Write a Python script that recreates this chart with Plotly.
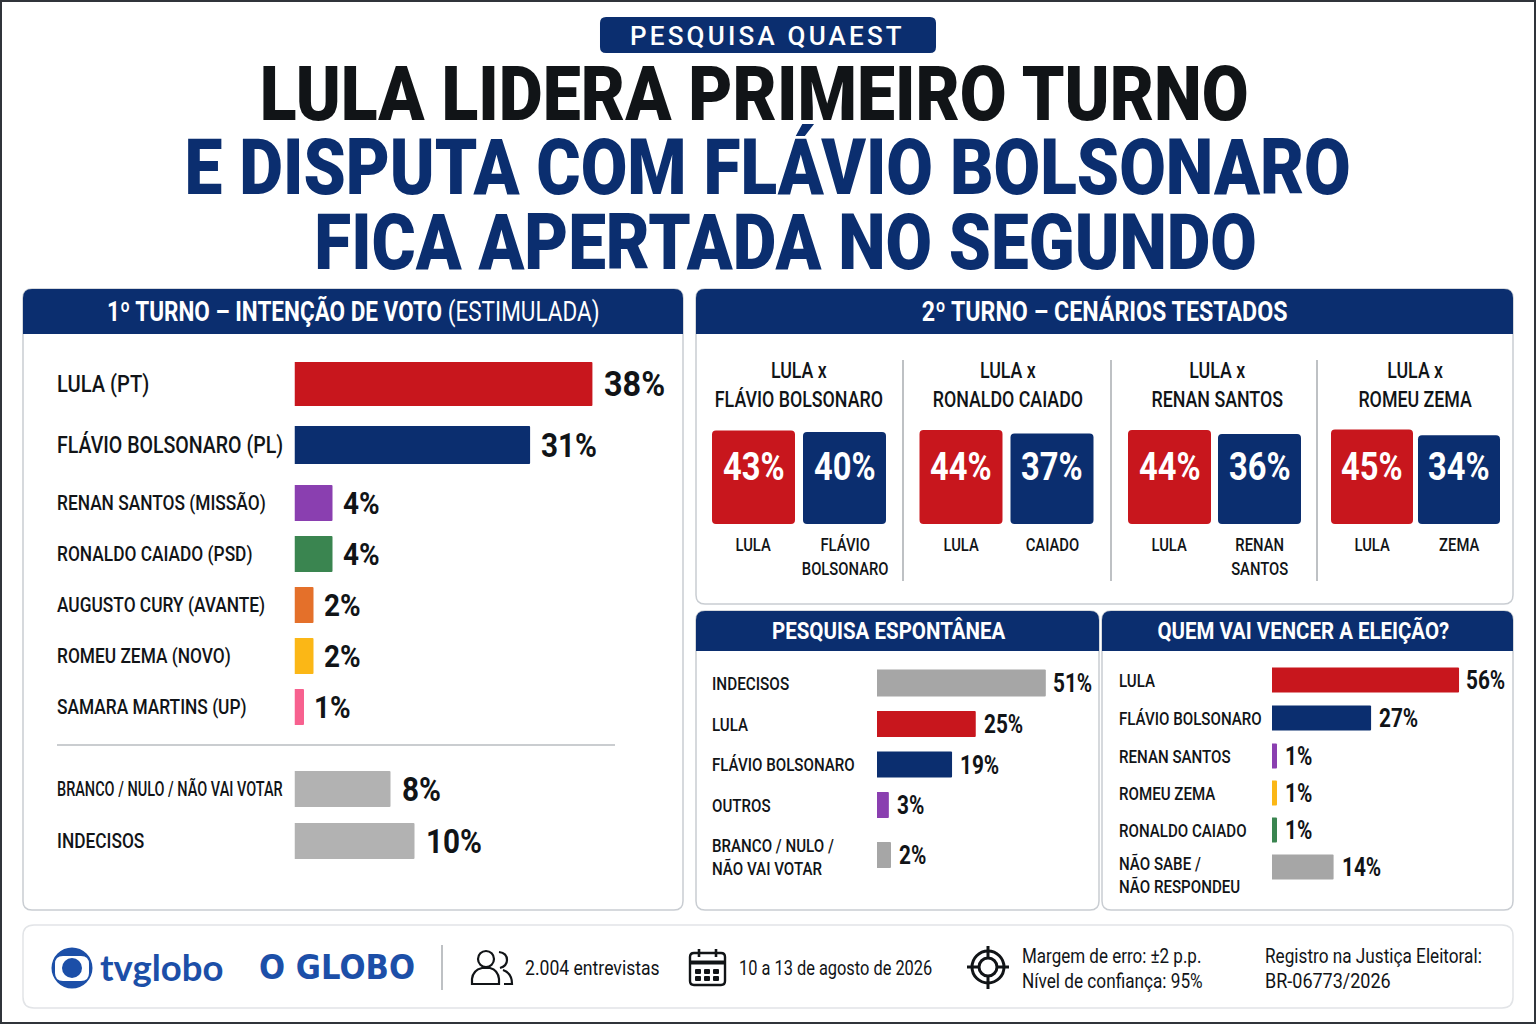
import json
import re
import plotly.graph_objects as go

NAVY = "#0b2e6f"
RED = "#c8161d"
PURPLE = "#8a3fb0"
GREEN = "#3a8550"
ORANGE = "#e4702a"
YELLOW = "#fbb716"
PINK = "#f7618f"
GRAY = "#b2b2b2"
DARKGRAY = "#a6a6a6"
INK = "#111417"
BLUE = "#1c4fa8"
FONT = "Roboto"

# 1o turno
t1_top_cats = ["LULA (PT)", "FLÁVIO BOLSONARO (PL)"]
t1_top_vals = [38, 31]
t1_mid_cats = ["RENAN SANTOS (MISSÃO)", "RONALDO CAIADO (PSD)", "AUGUSTO CURY (AVANTE)", "ROMEU ZEMA (NOVO)", "SAMARA MARTINS (UP)"]
t1_mid_vals = [4, 4, 2, 2, 1]
t1_low_cats = ["BRANCO / NULO / NÃO VAI VOTAR", "INDECISOS"]
t1_low_vals = [8, 10]

# 2o turno
t2_titles = ["LULA x<br>FLÁVIO BOLSONARO", "LULA x<br>RONALDO CAIADO", "LULA x<br>RENAN SANTOS", "LULA x<br>ROMEU ZEMA"]
t2_cats = [["LULA", "FLÁVIO<br>BOLSONARO"], ["LULA", "CAIADO"], ["LULA", "RENAN<br>SANTOS"], ["LULA", "ZEMA"]]
t2_vals = [[43, 40], [44, 37], [44, 36], [45, 34]]

# espontanea
esp_a_cats = ["INDECISOS"]
esp_a_vals = [51]
esp_b_cats = ["LULA", "FLÁVIO BOLSONARO", "OUTROS"]
esp_b_vals = [25, 19, 3]
esp_c_cats = ["BRANCO / NULO /<br>NÃO VAI VOTAR"]
esp_c_vals = [2]

# quem vai vencer
ven_a_cats = ["LULA", "FLÁVIO BOLSONARO"]
ven_a_vals = [56, 27]
ven_b_cats = ["RENAN SANTOS", "ROMEU ZEMA", "RONALDO CAIADO"]
ven_b_vals = [1, 1, 1]
ven_c_cats = ["NÃO SABE /<br>NÃO RESPONDEU"]
ven_c_vals = [14]

W, H = 1536, 1024
fig = go.Figure()
shapes = []
notes = []
squeeze = {}
axes = {}
n_axes = 0


def px(x):
    return x / W


def py(y):
    return 1 - y / H


def pth(d):
    return re.sub(r"(-?[\d.]+),(-?[\d.]+)", lambda m: f"{px(float(m[1])):.5f},{py(float(m[2])):.5f}", d)


def rr(x0, y0, x1, y1, r, top_only=False):
    if top_only:
        return f"M{x0},{y1} L{x0},{y0+r} Q{x0},{y0} {x0+r},{y0} L{x1-r},{y0} Q{x1},{y0} {x1},{y0+r} L{x1},{y1} Z"
    return (f"M{x0+r},{y0} L{x1-r},{y0} Q{x1},{y0} {x1},{y0+r} L{x1},{y1-r} Q{x1},{y1} {x1-r},{y1} "
            f"L{x0+r},{y1} Q{x0},{y1} {x0},{y1-r} L{x0},{y0+r} Q{x0},{y0} {x0+r},{y0} Z")


def path(d, fill=None, line=None, w=0, layer="below"):
    shapes.append(dict(type="path", path=pth(d), xref="paper", yref="paper", layer=layer,
                       fillcolor=fill or "rgba(0,0,0,0)",
                       line=dict(color=line or "rgba(0,0,0,0)", width=w)))


def circle(cx, cy, r, fill=None, line=None, w=0):
    shapes.append(dict(type="circle", xref="paper", yref="paper", layer="above",
                       x0=px(cx - r), x1=px(cx + r), y0=py(cy + r), y1=py(cy - r),
                       fillcolor=fill or "rgba(0,0,0,0)",
                       line=dict(color=line or "rgba(0,0,0,0)", width=w)))


def seg(x0, y0, x1, y1, color, w=1.5, layer="below"):
    shapes.append(dict(type="line", xref="paper", yref="paper", layer=layer,
                       x0=px(x0), x1=px(x1), y0=py(y0), y1=py(y1), line=dict(color=color, width=w)))


def note(x, y, xref, yref, text, size, color=INK, weight=400, anchor="center", family=FONT, sx=1.0, ls=0,
         yanchor="middle", xshift=0, yshift=0):
    # sx / ls: horizontal squeeze and letter spacing, applied to the svg text after plotting
    if sx != 1.0 or ls:
        squeeze[len(notes)] = dict(s=sx, ls=ls, a=anchor)
    notes.append(dict(x=x, y=y, xref=xref, yref=yref, text=text, showarrow=False, xanchor=anchor, yanchor=yanchor,
                      align=anchor, borderpad=0, borderwidth=0, xshift=xshift, yshift=yshift,
                      font=dict(family=family, size=size, color=color, weight=weight)))


def txt(x, y, text, size, **kw):
    note(px(x), py(y), "paper", "paper", text, size, **kw)


def panel(x0, y0, x1, y1, head, title, size, sx, cx=None):
    path(rr(x0, y0, x1, y1, 9), fill="white", line="#c9cdd2", w=1.5)
    path(rr(x0, y0, x1, head, 9, top_only=True), fill=NAVY)
    txt(cx or (x0 + x1) / 2, (y0 + head) / 2, title, size, color="white", weight=700, sx=sx)


def new_axes(x0, x1, y0, y1, xrange, yrange, xtype="linear", ytype="category"):
    global n_axes
    n_axes += 1
    s = "" if n_axes == 1 else str(n_axes)
    axes["xaxis" + s] = dict(domain=[px(x0), px(x1)], range=xrange, type=xtype, visible=False,
                             anchor="y" + s, fixedrange=True)
    axes["yaxis" + s] = dict(domain=[py(y1), py(y0)], range=yrange, type=ytype, visible=False,
                             anchor="x" + s, fixedrange=True)
    return "x" + s, "y" + s


def bars(cats, vals, colors, x0, scale, first, step, thick, lab_x, lab_size, val_size, lab_sx,
         val_gap=11, val_sx=0.8, lab_dy=0, lab_weight=500):
    # one hidden axis pair per group of rows, px-per-percent is set through the axis range
    top = first - step / 2
    bottom = first + step * (len(cats) - 0.5)
    span = min(400, W - x0 - 10)
    xa, ya = new_axes(x0, x0 + span, top, bottom, [0, span / scale], [len(cats) - 0.5, -0.5])
    n = len(cats)
    thick = thick if isinstance(thick, list) else [thick] * n
    lab_size = lab_size if isinstance(lab_size, list) else [lab_size] * n
    val_size = val_size if isinstance(val_size, list) else [val_size] * n
    lab_sx = lab_sx if isinstance(lab_sx, list) else [lab_sx] * n
    fig.add_trace(go.Bar(x=vals, y=cats, orientation="h", xaxis=xa, yaxis=ya, showlegend=False,
                         width=[t / step for t in thick],
                         marker=dict(color=colors, line=dict(width=0), cornerradius=1), hoverinfo="skip"))
    for i, (c, v) in enumerate(zip(cats, vals)):
        note(px(lab_x), c, "paper", ya, c, lab_size[i], anchor="left", sx=lab_sx[i], weight=lab_weight, yshift=lab_dy)
        note(v, c, xa, ya, f"{v}%", val_size[i], anchor="left", sx=val_sx, weight=700, xshift=val_gap)


# outer frame and header
path("M1,1 L1535,1 L1535,1023 L1,1023 Z", line="#30343a", w=2)
path(rr(600, 17, 936, 53, 6), fill=NAVY)
txt(767, 36, "PESQUISA QUAEST", 26, color="white", weight=500, ls=3.2)
txt(753.5, 94, "LULA LIDERA PRIMEIRO TURNO", 76, color=INK, weight=900, sx=0.894)
txt(767.5, 167, "E DISPUTA COM FLÁVIO BOLSONARO", 78, color=NAVY, weight=900, sx=0.867)
txt(785, 242, "FICA APERTADA NO SEGUNDO", 78, color=NAVY, weight=900, sx=0.864)

# panels
panel(23, 289, 683, 910, 334, "<b>1º TURNO – INTENÇÃO DE VOTO</b> <span style='font-weight:400'>(ESTIMULADA)</span>", 27, 0.834)
panel(696, 289, 1513, 604, 334, "2º TURNO – CENÁRIOS TESTADOS", 27, 0.86)
panel(696, 611, 1099, 910, 651, "PESQUISA ESPONTÂNEA", 24, 0.855, cx=889)
panel(1102, 611, 1513, 910, 651, "QUEM VAI VENCER A ELEIÇÃO?", 24, 0.852, cx=1303.5)
path(rr(23, 925, 1513, 1008, 11), fill="white", line="#e2e4e7", w=1.5)

# 1o turno bars
bars(t1_top_cats[:1], t1_top_vals[:1], [RED], 294.5, 7.84, 384, 61, 44, 57, 24, 36, 0.84, val_sx=0.9, val_gap=12)
bars(t1_top_cats[1:], t1_top_vals[1:], [NAVY], 294.5, 7.6, 445, 61, 38, 57, 24, 33, 0.815, val_sx=0.9, val_gap=11)
bars(t1_mid_cats, t1_mid_vals, [PURPLE, GREEN, ORANGE, YELLOW, PINK], 294.5, 9.5, 503, 51, 36, 57, 21, 31, 0.825, val_sx=0.9, val_gap=10)
seg(57, 745, 615, 745, "#b9bcc0", 1.5)
bars(t1_low_cats, t1_low_vals, [GRAY, GRAY], 294.5, 12, 789, 52, 36, 57, 21, 33, [0.69, 0.824], val_sx=0.9)

# 2o turno tiles
TILE_BASE = -140
tile_left = [712, 919.5, 1128, 1331]
tile_w = [83, 83, 83, 82]
tile_gap = [8, 8, 7, 5]
title_cx = [799, 1007.5, 1217, 1415.5]
for i in range(4):
    step = tile_w[i] + tile_gap[i]
    x0 = tile_left[i] - tile_gap[i] / 2
    xa, ya = new_axes(x0, x0 + 2 * step, 429, 524, [-0.5, 1.5], [TILE_BASE, 46], xtype="category", ytype="linear")
    fig.add_trace(go.Bar(x=t2_cats[i], y=[v - TILE_BASE for v in t2_vals[i]], base=TILE_BASE, xaxis=xa, yaxis=ya,
                         width=tile_w[i] / step, showlegend=False, hoverinfo="skip",
                         marker=dict(color=[RED, NAVY], line=dict(width=0), cornerradius=4)))
    for c, v in zip(t2_cats[i], t2_vals[i]):
        note(c, py(466.5), xa, "paper", f"{v}%", 38, color="white", weight=700, sx=0.86)
        note(c, py(534), xa, "paper", c, 18.5, weight=500, sx=0.8, yanchor="top")
    txt(title_cx[i], 385, t2_titles[i], 22, weight=500, sx=0.81)
for x in [903, 1111, 1317]:
    seg(x, 360, x, 581, "#a9adb1", 1.5)

# espontanea
bars(esp_a_cats, esp_a_vals, [DARKGRAY], 877, 3.31, 683, 41, 27, 712, 18, 26, 0.85, val_gap=7)
bars(esp_b_cats, esp_b_vals, [RED, NAVY, PURPLE], 877, 3.95, 724, 40.5, 26, 712, 18, 26, 0.84, val_gap=8)
bars(esp_c_cats, esp_c_vals, [DARKGRAY], 877, 7, 855, 41, 26, 712, 18, 26, 0.84, val_gap=8, lab_dy=-2)

# quem vai vencer
bars(ven_a_cats[:1], ven_a_vals[:1], [RED], 1272, 3.34, 680, 38, 25, 1119, 18, 26, 0.84, val_gap=7)
bars(ven_a_cats[1:], ven_a_vals[1:], [NAVY], 1272, 3.67, 718, 38, 25, 1119, 18, 26, 0.84, val_gap=8)
bars(ven_b_cats, ven_b_vals, [PURPLE, YELLOW, GREEN], 1272, 5, 756, 37, 25, 1119, 18, 26, 0.84, val_gap=8)
bars(ven_c_cats, ven_c_vals, [DARKGRAY], 1272, 4.4, 867, 37, 25, 1119, 18, 26, 0.84, val_gap=8, lab_dy=-8)

# footer: logos
circle(72, 968, 20.5, fill=BLUE)
path(rr(55, 956, 89, 981, 8), fill="white", layer="above")
circle(72, 968, 10, fill=BLUE)
txt(100, 967, "tvglobo", 36.5, color=BLUE, weight=700, anchor="left", family="Lato")
txt(259, 967, "O GLOBO", 33, color=BLUE, weight=700, anchor="left", family="DejaVu Sans", sx=0.93)
seg(442, 945, 442, 990, "#a9adb1", 1.5)

# footer: people icon
circle(486, 959, 8, line=INK, w=2.2)
path("M472,984 L472,979 Q473,970 482,968 L490,968 Q498,970 499,979 L499,984 Z", line=INK, w=2.2, layer="above")
path("M499,952 Q507,953 507,960 Q507,966 500,968", line=INK, w=2.2, layer="above")
path("M503,970 Q512,973 512,984 L504,984", line=INK, w=2.2, layer="above")
txt(525, 968, "2.004 entrevistas", 20, anchor="left", sx=0.88)

# footer: calendar icon
path(rr(690, 953, 725, 985, 4), line=INK, w=2.4, layer="above")
path("M690,961 L725,961 L725,964 L690,964 Z", fill=INK, line=INK, w=1, layer="above")
for x in [699, 716]:
    seg(x, 949, x, 957, INK, 2.6, layer="above")
for yy in [969, 976]:
    for xx in [695, 704, 713]:
        path(rr(xx, yy, xx + 6, yy + 5, 1), fill=INK, layer="above")
txt(739, 968, "10 a 13 de agosto de 2026", 20, anchor="left", sx=0.82)

# footer: target icon
circle(988, 967, 16, line=INK, w=3)
circle(988, 967, 9, line=INK, w=3)
for a, b, c, d in [(988, 946, 988, 958), (988, 976, 988, 989), (967, 967, 979, 967), (997, 967, 1009, 967)]:
    seg(a, b, c, d, INK, 3, layer="above")
txt(1022, 956, "Margem de erro: ±2 p.p.", 20, anchor="left", sx=0.85)
txt(1022, 981, "Nível de confiança: 95%", 20, anchor="left", sx=0.86)
txt(1265, 956, "Registro na Justiça Eleitoral:", 20, anchor="left", sx=0.86)
txt(1265, 981, "BR-06773/2026", 20, anchor="left", sx=0.9)

fig.update_layout(width=W, height=H, margin=dict(l=0, r=0, t=0, b=0), paper_bgcolor="white",
                  plot_bgcolor="rgba(0,0,0,0)", shapes=shapes, annotations=notes, barmode="overlay",
                  font=dict(family=FONT), **axes)

# no condensed face is installed, so narrow the annotation texts in the svg
post = """
document.body.style.margin = '0';
var sq = %s;
document.querySelectorAll('g.annotation').forEach(function (g) {
  var m = sq[g.getAttribute('data-index')];
  if (!m) return;
  var t = g.querySelector('text');
  if (m.ls) t.style.letterSpacing = m.ls + 'px';
  var b = t.getBBox();
  var p = m.a === 'left' ? b.x : b.x + b.width / 2;
  t.setAttribute('transform', 'translate(' + p * (1 - m.s) + ',0) scale(' + m.s + ',1)');
});
""" % json.dumps(squeeze)
fig.write_html("out.html", config=dict(displayModeBar=False), post_script=post)
